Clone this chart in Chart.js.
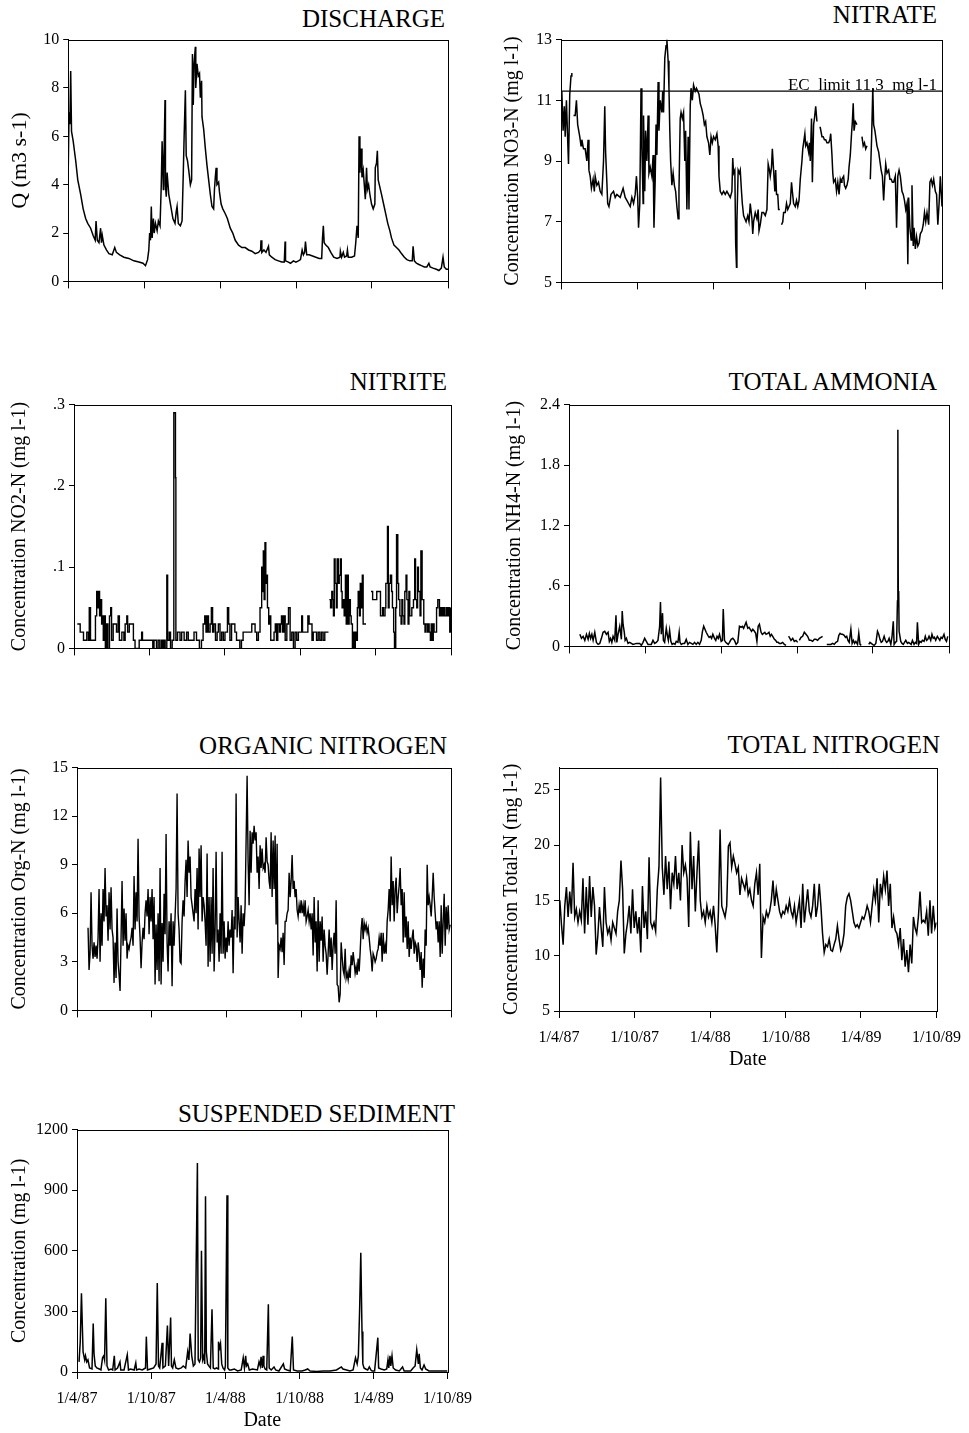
<!DOCTYPE html>
<html><head><meta charset="utf-8">
<script src="https://cdn.jsdelivr.net/npm/chart.js@4.4.1/dist/chart.umd.min.js"></script>
<style>
html,body{margin:0;padding:0;background:#fff;}
body{width:969px;height:1433px;position:relative;overflow:hidden;font-family:"Liberation Serif","Times New Roman",serif;}
.ttl{position:absolute;font-size:25px;line-height:25px;white-space:nowrap;color:#000;text-align:right;}
canvas{position:absolute;}
</style></head><body>
<div class="ttl" style="right:524px;top:6px">DISCHARGE</div>
<div class="ttl" style="right:32px;top:2px">NITRATE</div>
<div class="ttl" style="right:522px;top:369px">NITRITE</div>
<div class="ttl" style="right:32px;top:369px">TOTAL AMMONIA</div>
<div class="ttl" style="right:522px;top:733px">ORGANIC NITROGEN</div>
<div class="ttl" style="right:29px;top:732px">TOTAL NITROGEN</div>
<div class="ttl" style="right:514px;top:1101px">SUSPENDED SEDIMENT</div>
<script>
// ---------- DATA (x = days since 1 April 1987) ----------
const dateTickDays = [0,183,366,549,731,914];
const dateTickLabels = ['1/4/87','1/10/87','1/4/88','1/10/88','1/4/89','1/10/89'];

const dischargeDays = [0,2,4,6,8,12,18,23,30,36,42,47,54,60,65,67,70,74,78,80,82,86,92,98,106,112,116,124,134,146,158,170,180,186,191,194,196,198,200,202,205,207,210,214,217,221,224,226,229,230,233,234,236,238,242,247,252,257,260,262,265,270,274,277,279,282,284,287,290,294,297,299,301,303,306,307,310,313,316,318,321,322,326,330,334,338,342,346,350,352,354,356,358,362,364,368,372,378,383,390,396,402,410,418,426,434,442,450,458,463,464,466,471,476,482,484,490,498,506,514,520,522,523,530,535,542,548,554,559,563,566,569,571,574,580,588,596,604,610,612,614,616,620,626,632,639,647,654,655,658,662,665,670,672,674,682,689,692,695,698,700,702,705,707,710,713,715,718,720,723,726,730,734,738,739,742,744,746,750,754,759,764,769,774,778,784,790,796,802,809,815,822,828,830,833,838,844,850,857,863,868,871,878,886,892,898,902,905,910,914];
const dischargeQ = [4.5,7.0,6.5,8.7,6.2,5.8,5.0,4.2,3.6,3.0,2.6,2.4,2.2,1.9,1.7,2.5,1.7,1.6,2.2,1.6,1.9,1.5,1.3,1.15,1.1,1.4,1.2,1.1,1.0,0.95,0.85,0.8,0.75,0.65,0.9,1.3,2.0,1.7,3.1,1.8,2.6,2.0,2.4,2.1,2.5,2.3,4.0,5.8,3.8,4.6,7.5,4.0,3.5,4.5,3.6,3.1,2.6,2.4,2.9,3.1,2.4,2.3,2.5,4.5,6.0,7.9,5.2,5.0,4.6,4.0,4.2,9.4,7.3,9.0,9.7,8.0,9.0,8.5,8.6,7.6,8.3,6.8,6.3,5.5,4.8,4.2,3.6,3.1,3.0,3.8,4.3,4.7,4.0,4.1,3.7,3.2,3.0,2.8,2.6,2.2,2.0,1.7,1.5,1.4,1.4,1.3,1.25,1.15,1.2,1.3,1.7,1.2,1.3,1.2,1.45,1.1,1.0,0.9,0.85,0.8,0.8,1.65,0.85,0.8,0.75,0.85,0.8,0.85,0.9,1.3,1.1,1.2,1.65,1.1,1.1,1.05,1.0,0.95,0.95,1.8,2.3,1.6,1.5,1.4,1.2,1.0,0.95,1.0,1.25,1.0,1.2,1.0,1.05,1.3,1.0,1.0,1.05,1.6,2.3,1.8,6.0,4.5,5.5,4.3,4.6,3.9,3.4,4.7,3.8,4.0,3.6,3.2,3.0,3.2,4.7,4.9,5.4,4.2,3.9,3.6,3.2,2.8,2.4,2.1,1.8,1.5,1.4,1.3,1.15,1.0,0.9,0.85,0.85,1.45,0.85,0.75,0.7,0.65,0.6,0.6,0.75,0.6,0.55,0.5,0.45,0.55,1.0,0.6,0.5,0.5];

// [day, NO3-N]; null = gap in record
const nitratePts = [[2,11.3],[5,10.0],[8,10.8],[10,9.8],[13,11.0],[16,9.7],[18,8.9],[21,11.2],[24,11.8],[26,11.9],[28,null],[30,10.5],[34,10.5],[37,11.0],[40,10.2],[45,9.8],[48,9.5],[50,9.7],[54,9.4],[58,9.4],[62,9.0],[65,9.7],[67,8.7],[70,8.5],[73,8.1],[77,8.4],[80,8.0],[82,8.5],[86,8.2],[90,8.3],[94,8.0],[98,7.9],[102,9.0],[105,10.8],[107,9.3],[110,8.3],[112,7.6],[115,7.5],[120,7.9],[126,8.0],[130,7.8],[134,7.9],[142,7.8],[149,8.1],[154,7.8],[158,7.7],[162,7.6],[166,7.5],[170,7.8],[174,7.6],[178,7.9],[181,8.5],[184,7.8],[186,6.8],[189,7.6],[192,11.4],[194,9.5],[197,7.6],[198,10.5],[201,8.0],[203,10.0],[206,9.0],[209,10.5],[211,8.6],[214,8.8],[218,8.5],[221,9.2],[223,6.8],[226,8.4],[228,10.2],[230,9.2],[233,11.6],[235,10.0],[238,11.0],[242,10.6],[244,11.3],[246,10.6],[249,12.4],[252,12.8],[254,13.0],[257,12.3],[259,11.4],[261,10.0],[263,9.0],[266,8.2],[269,8.6],[272,8.2],[275,8.0],[278,7.5],[281,7.1],[283,8.0],[286,10.4],[288,10.6],[291,10.4],[294,10.6],[297,9.0],[299,10.0],[302,7.4],[305,9.8],[307,7.4],[310,10.8],[312,11.4],[315,11.0],[318,11.5],[322,11.3],[325,11.4],[328,11.3],[331,11.2],[334,10.9],[338,10.7],[341,10.5],[344,10.2],[347,10.3],[350,9.8],[354,9.6],[357,9.2],[360,9.8],[363,9.6],[366,9.8],[370,9.7],[374,9.9],[377,9.5],[379,8.5],[382,8.0],[386,7.9],[390,8.0],[394,7.9],[398,8.0],[402,7.9],[406,7.8],[410,8.0],[412,9.1],[414,8.6],[417,8.7],[419,6.3],[421,5.5],[422,7.0],[425,8.7],[428,8.6],[430,8.7],[433,8.0],[435,7.6],[438,7.2],[441,7.1],[444,7.0],[448,7.2],[451,7.0],[454,7.6],[458,7.1],[460,6.6],[462,7.0],[466,7.3],[470,7.1],[473,7.4],[475,6.7],[478,6.9],[482,7.3],[486,7.3],[490,7.2],[494,7.4],[497,8.9],[500,8.7],[502,8.5],[505,8.8],[507,9.4],[510,8.7],[513,8.0],[515,8.7],[517,7.9],[520,7.9],[522,7.4],[525,7.4],[526,null],[529,6.9],[532,7.0],[534,7.3],[538,7.3],[541,7.6],[544,7.4],[547,7.5],[550,7.6],[553,8.3],[555,8.0],[558,7.6],[562,7.5],[565,7.7],[568,7.5],[571,7.7],[574,8.4],[578,9.0],[580,9.4],[582,9.6],[585,9.9],[587,9.5],[590,9.6],[594,9.3],[596,9.6],[598,9.0],[601,10.4],[603,8.3],[606,10.2],[608,10.4],[611,10.8],[614,10.3],[617,null],[620,10.1],[622,10.1],[626,9.8],[629,9.8],[632,9.7],[635,9.7],[638,9.6],[642,9.6],[645,9.7],[647,9.9],[650,9.2],[652,8.6],[654,8.3],[658,8.4],[661,8.0],[664,8.3],[667,7.9],[670,8.4],[672,8.3],[674,8.4],[678,8.5],[680,8.2],[683,8.1],[686,8.2],[689,8.4],[691,8.8],[694,9.2],[697,9.9],[699,10.3],[701,10.9],[703,10.0],[706,10.3],[710,10.2],[715,null],[722,9.8],[725,9.5],[728,9.6],[731,9.4],[734,9.5],[738,null],[742,8.4],[745,9.7],[748,11.4],[750,10.2],[753,10.0],[755,9.8],[758,9.5],[762,9.3],[765,9.0],[768,8.7],[771,8.5],[774,7.7],[777,8.5],[779,8.9],[782,8.6],[786,8.7],[789,8.4],[792,8.4],[795,8.3],[798,8.3],[802,8.5],[805,6.8],[808,8.5],[811,8.7],[814,8.5],[818,8.0],[821,7.9],[824,7.7],[827,7.4],[830,7.6],[832,5.6],[834,7.8],[837,6.8],[840,6.4],[842,8.2],[845,6.2],[847,6.8],[850,6.1],[853,6.5],[856,6.2],[859,6.3],[862,6.6],[866,6.7],[869,6.9],[872,7.3],[875,7.0],[878,7.3],[882,6.9],[885,8.3],[888,8.4],[891,8.2],[894,8.4],[898,8.0],[901,7.9],[904,6.9],[907,7.6],[910,8.5],[914,7.5]];
const ecLimit = 11.3;
const ecLabel = 'EC  limit 11,3  mg l-1';

// [day, NO2-N]
const nitritePts = [[8,.03],[15,.02],[23,.01],[31,.02],[35,.01],[37,.05],[40,.01],[47,.01],[52,.04],[55,.07],[57,.05],[60,.07],[62,.04],[65,.06],[67,.03],[69,.04],[71,.01],[74,.04],[76,0],[79,.03],[82,0],[86,.04],[89,.05],[91,.01],[95,.03],[99,.03],[103,.02],[107,.04],[110,.01],[116,.02],[121,.01],[124,.03],[128,.04],[130,.02],[134,.03],[140,.03],[144,.01],[148,0],[152,0],[158,.01],[164,.02],[166,.01],[172,.01],[180,.01],[188,.01],[191,0],[194,.01],[200,0],[204,.01],[208,0],[212,.01],[215,0],[218,.01],[221,0],[225,.09],[227,.01],[231,.02],[234,0],[238,.01],[242,.29],[246,.21],[247,.01],[251,.02],[257,.01],[261,.02],[267,.01],[273,.02],[277,.01],[285,.01],[291,.02],[297,.01],[304,0],[309,.01],[313,.03],[317,.04],[320,.02],[323,.04],[326,.02],[330,.03],[333,.05],[336,.02],[339,.03],[343,.01],[347,.02],[350,.03],[354,.01],[358,.02],[362,.01],[366,.02],[372,.05],[375,.03],[378,.01],[382,.03],[386,.03],[390,.02],[394,.01],[398,.01],[402,0],[406,.01],[410,.02],[419,.02],[427,.02],[431,.03],[435,.03],[439,.02],[443,.01],[447,.02],[451,.05],[455,.1],[457,.07],[459,.12],[461,.06],[463,.13],[465,.08],[468,.09],[469,.05],[472,.03],[474,.04],[477,.01],[482,.01],[485,.02],[488,.03],[491,.01],[494,.03],[498,.02],[501,.03],[503,.04],[506,.02],[509,.04],[512,.01],[516,.03],[520,.05],[524,.01],[528,.02],[532,0],[536,.02],[540,.01],[544,.02],[548,.02],[552,.04],[554,.02],[558,.02],[564,.02],[567,.04],[570,.03],[574,.03],[577,.01],[580,.02],[584,.02],[588,.01],[592,.02],[596,.01],[600,.02],[604,.01],[608,.02],[612,.02],[617,.02],[618,null],[619,.06],[622,.05],[625,.07],[627,.06],[629,.04],[631,.11],[633,.08],[636,.05],[638,.11],[641,.08],[643,.09],[646,.11],[648,.07],[650,.05],[653,.06],[655,.04],[658,.09],[660,.03],[663,.09],[665,.03],[667,.06],[670,.04],[672,.03],[675,0],[677,.02],[680,0],[682,.02],[684,.01],[687,.05],[689,.07],[692,.04],[694,.08],[696,.05],[699,.09],[701,.03],[704,.03],[708,.03],[709,null],[720,.07],[724,.06],[730,.06],[734,.07],[743,.04],[748,.05],[750,.04],[754,.05],[756,.08],[760,.15],[762,.05],[764,.08],[767,.09],[770,.07],[772,.05],[775,.02],[777,0],[780,.05],[782,.14],[785,.08],[787,.06],[790,.04],[793,.03],[795,.06],[797,.04],[800,.03],[802,.07],[805,.09],[807,.06],[810,.03],[812,.07],[814,.04],[817,.04],[819,.05],[823,.06],[826,.11],[828,.06],[831,.05],[833,.1],[835,.07],[839,.04],[841,.12],[844,.06],[846,.06],[848,.03],[851,.02],[853,.03],[857,.02],[859,.03],[861,.02],[864,.01],[866,.03],[869,.01],[871,.03],[873,.02],[876,.02],[879,.05],[882,.06],[886,.04],[889,.05],[892,.04],[895,.05],[898,.04],[902,.05],[905,.04],[908,.05],[911,.02],[913,.05]];

// [day, NH4-N]
const ammoniaPts = [[26,.12],[30,.08],[34,.1],[38,.06],[42,.12],[46,.07],[49,.13],[52,.08],[55,.12],[58,.06],[62,.14],[66,.04],[70,.02],[74,.03],[78,.08],[82,.14],[86,.15],[90,.12],[94,.14],[97,.05],[100,.08],[103,.04],[106,.1],[110,.06],[113,.31],[115,.04],[118,.12],[122,.2],[126,.07],[128,.35],[130,.22],[133,.14],[135,.06],[138,.08],[142,.03],[146,.04],[150,.03],[154,.02],[162,.03],[170,.03],[174,.01],[178,.04],[182,.08],[186,.05],[190,.02],[194,.02],[198,.02],[202,.06],[206,.03],[210,.04],[214,.06],[218,.2],[220,.44],[222,.12],[225,.33],[227,.06],[230,.04],[234,.18],[237,.1],[239,.06],[242,.16],[245,.05],[248,.02],[252,.03],[255,.02],[258,.05],[262,.04],[265,.14],[267,.04],[270,.02],[274,.03],[278,.03],[282,.07],[286,.02],[290,.04],[294,.03],[298,.02],[302,.04],[306,.02],[310,.04],[314,.02],[318,.06],[321,.15],[324,.2],[327,.17],[330,.14],[334,.11],[337,.09],[340,.1],[343,.08],[346,.12],[350,.08],[353,.06],[356,.1],[359,.08],[362,.12],[366,.05],[369,.06],[371,.37],[374,.06],[377,.04],[380,.03],[383,.02],[386,.04],[390,.07],[394,.08],[398,.06],[402,.02],[406,.04],[410,.2],[414,.19],[417,.2],[420,.18],[423,.21],[426,.24],[430,.18],[433,.19],[436,.17],[439,.15],[442,.17],[446,.15],[449,.13],[452,.05],[455,.2],[458,.22],[462,.14],[465,.12],[468,.13],[471,.14],[474,.12],[478,.13],[481,.14],[484,.1],[487,.12],[490,.1],[494,.07],[497,.06],[500,.04],[503,.04],[506,.03],[510,.03],[514,.04],[518,.02],[522,.01],[525,null],[528,.1],[530,.09],[534,.06],[538,.08],[542,.05],[546,.06],[550,.04],[552,null],[554,.06],[558,.09],[562,.1],[566,.14],[570,.12],[574,.1],[578,.06],[582,.06],[586,.05],[590,.07],[594,.07],[598,.06],[602,.08],[606,.09],[610,.1],[615,null],[620,.02],[625,.02],[630,.02],[634,.03],[638,.02],[642,.04],[646,.05],[649,.11],[652,.13],[655,.12],[658,.12],[662,.11],[665,.09],[668,.1],[671,.06],[674,.04],[678,.17],[681,.03],[684,.06],[687,.03],[690,.05],[694,.02],[697,.13],[700,.02],[703,.01],[710,null],[721,.02],[724,.04],[727,.03],[730,.02],[734,.01],[738,.03],[742,.15],[745,.12],[748,.07],[751,.04],[754,.05],[758,.1],[761,.06],[764,.04],[767,.05],[770,.08],[774,.02],[777,.1],[780,.25],[782,.02],[785,.04],[788,.05],[790,.45],[791,2.15],[792,.5],[793,.55],[794,.15],[798,.05],[801,.03],[804,.02],[807,.04],[810,.06],[814,.03],[817,.04],[820,.03],[823,.02],[826,.06],[830,.02],[833,.04],[836,.03],[838,.24],[841,.02],[844,.05],[847,.04],[850,.06],[854,.05],[857,.1],[860,.06],[863,.07],[866,.1],[870,.06],[873,.12],[876,.08],[879,.09],[882,.06],[886,.1],[889,.08],[892,.06],[895,.09],[898,.08],[902,.12],[905,.07],[908,.05],[911,.1]];

// Organic N: one reading per ~2.4 days from day 27 to day 912
const orgNStartDay = 27, orgNEndDay = 912;
const orgN = [5.1,2.5,3.5,7.3,4.0,3.2,4.2,3.3,4.0,3.2,4.5,7.5,3.0,6.0,4.0,7.5,5.5,8.8,5.8,6.5,4.3,7.3,5.0,7.6,5.0,4.5,1.7,4.2,2.0,6.3,3.0,2.2,1.2,4.5,8.0,4.0,6.3,4.3,6.0,3.2,4.0,3.8,4.2,4.5,5.1,4.0,8.3,5.0,7.3,5.5,10.6,5.8,4.5,2.6,4.2,5.1,4.4,6.0,6.8,5.8,7.5,4.7,7.0,5.5,7.5,4.4,7.0,1.6,5.3,2.5,6.0,1.8,8.8,1.6,5.4,3.0,7.2,4.7,10.9,4.2,2.4,5.5,4.0,6.0,1.5,5.5,4.0,5.8,7.5,13.4,6.0,5.0,3.0,2.9,5.5,6.8,5.8,8.0,9.3,7.0,10.5,8.5,9.5,7.0,6.5,6.0,5.5,7.5,6.0,8.8,5.0,10.0,7.0,10.2,5.5,7.0,6.5,5.5,4.0,9.7,2.7,7.0,3.0,7.0,3.5,8.8,2.4,5.0,9.8,4.2,5.0,3.0,6.0,3.5,9.8,3.5,5.5,3.2,4.5,3.6,5.5,4.0,5.0,4.5,6.2,2.3,5.8,5.0,13.4,4.5,7.0,5.5,4.2,6.5,3.5,6.0,5.2,6.5,10.5,14.5,9.2,6.5,11.1,8.5,11.0,10.3,11.4,10.5,11.0,8.5,9.5,7.5,10.2,8.8,10.0,8.8,9.0,8.5,10.7,9.2,9.0,8.0,7.5,11.0,7.0,10.5,7.5,10.8,5.3,10.3,2.0,4.0,3.8,4.5,3.6,4.8,2.8,5.5,5.5,6.0,6.2,8.5,7.0,8.0,9.6,7.5,8.0,7.0,7.5,6.2,5.8,6.5,6.0,6.8,6.0,6.5,5.8,6.8,5.5,5.8,6.2,5.5,6.0,5.0,6.0,3.4,7.0,4.2,5.5,2.4,6.8,3.0,5.5,4.3,5.8,3.0,5.0,4.0,3.5,2.2,3.5,5.0,3.3,4.5,2.5,4.0,4.8,3.5,6.8,1.6,1.5,0.5,1.0,4.2,3.3,2.5,2.2,3.8,2.0,2.3,1.9,2.5,2.0,3.4,2.8,3.6,3.0,2.3,2.7,2.2,3.2,2.4,3.6,5.0,5.7,4.4,5.4,5.0,5.3,4.8,5.1,4.5,3.8,3.3,2.4,3.5,3.3,3.0,3.2,3.6,3.8,4.5,4.0,4.8,3.0,4.8,3.5,4.0,3.5,5.5,6.2,7.5,5.5,9.5,6.5,8.0,5.5,7.5,8.2,6.0,7.0,7.7,8.8,6.5,7.5,4.2,7.3,4.5,5.8,3.8,5.5,3.3,4.5,3.8,4.5,5.0,3.5,4.2,4.0,3.0,4.2,3.6,2.5,3.6,1.4,3.2,2.0,5.0,4.0,9.0,6.5,7.0,6.5,5.8,7.0,8.5,7.0,6.0,5.0,5.5,4.2,5.5,3.3,6.5,3.5,5.5,7.2,4.0,6.4,5.0,6.5,5.0,5.3];

// Total N: one reading per ~4 days from day 2 to day 914
const totalNStartDay = 2, totalNEndDay = 914;
const totalN = [15.0,12.8,11.0,14.5,16.2,13.5,15.8,13.8,18.4,13.5,14.2,13.0,14.0,13.2,17.0,12.0,16.2,12.8,17.2,13.5,16.2,14.5,10.1,11.8,14.4,12.5,10.8,16.2,13.0,12.0,12.5,11.4,13.0,12.5,12.0,14.0,15.0,18.6,16.0,10.2,12.0,13.0,14.5,12.0,16.0,12.5,14.0,12.0,13.5,10.3,16.3,12.5,14.0,11.5,18.9,13.0,12.5,13.0,12.2,16.0,18.0,26.1,18.0,15.5,19.0,16.0,18.5,14.2,17.5,16.5,19.0,16.0,17.5,15.0,20.0,17.5,18.2,17.0,12.6,21.2,16.0,19.0,14.0,17.5,20.4,15.0,13.5,14.0,13.0,14.5,13.5,14.0,13.0,14.5,12.8,10.3,14.0,21.4,14.5,14.0,13.5,14.5,19.9,20.2,18.0,19.0,18.3,17.5,18.0,15.5,17.0,16.5,16.0,17.0,15.5,16.0,15.0,14.5,16.5,17.5,15.5,18.3,9.8,13.5,13.0,14.0,13.5,14.0,15.0,16.8,14.5,16.0,15.0,14.0,13.5,14.0,13.8,14.5,14.0,15.0,14.0,13.5,14.5,13.0,14.0,15.0,12.5,16.5,13.0,14.5,16.0,14.0,13.5,14.5,16.5,13.5,14.5,16.5,14.5,12.0,10.3,11.0,10.8,11.5,10.5,10.4,11.0,11.5,12.7,11.5,10.5,11.0,12.0,14.5,15.3,15.6,15.0,14.0,13.0,12.6,12.8,12.5,13.0,13.5,13.3,13.8,14.5,14.0,13.0,14.5,16.0,15.0,17.0,13.0,16.5,15.5,17.2,16.0,17.7,14.5,16.5,12.5,13.5,12.3,12.0,11.0,12.5,9.6,11.5,9.0,10.5,8.5,11.0,9.3,13.5,12.5,12.0,13.5,15.8,13.0,13.2,13.0,14.0,11.8,15.0,12.0,14.5,12.5,13.0];

// [day, suspended sediment mg/l]
const sedimentPts = [[5,50],[8,150],[11,390],[13,240],[15,100],[19,60],[21,80],[24,50],[27,60],[31,20],[37,15],[40,240],[42,90],[45,30],[49,20],[55,15],[59,10],[63,70],[66,80],[68,60],[71,365],[74,30],[78,10],[84,15],[88,10],[92,80],[94,10],[100,20],[106,50],[108,10],[116,10],[124,85],[127,10],[132,15],[141,10],[145,45],[147,10],[153,15],[161,10],[169,20],[171,175],[174,10],[181,15],[189,20],[195,40],[198,440],[201,30],[204,20],[210,145],[212,20],[218,30],[223,230],[226,30],[231,270],[233,30],[236,20],[240,60],[244,20],[250,15],[257,20],[262,30],[268,20],[273,100],[276,60],[279,190],[283,80],[287,30],[291,40],[297,1035],[299,60],[302,50],[305,70],[307,600],[310,60],[313,80],[315,40],[317,870],[319,100],[322,40],[325,30],[329,20],[333,310],[336,20],[340,15],[344,20],[348,15],[349,150],[352,120],[354,140],[357,40],[360,20],[364,10],[366,30],[370,875],[372,20],[376,10],[380,10],[388,15],[396,5],[405,10],[410,70],[413,20],[416,80],[418,30],[421,40],[425,10],[433,15],[445,10],[449,50],[452,30],[454,75],[457,20],[459,80],[461,30],[464,15],[468,10],[472,335],[474,20],[479,10],[486,25],[490,10],[498,5],[509,40],[512,15],[518,10],[526,5],[531,175],[534,10],[543,5],[555,5],[563,10],[569,15],[575,5],[591,3],[608,5],[624,5],[640,10],[652,25],[656,15],[665,10],[673,5],[681,10],[687,70],[691,40],[694,80],[697,300],[700,590],[703,200],[705,40],[708,20],[712,15],[717,10],[721,25],[725,10],[728,5],[734,5],[742,170],[744,20],[750,15],[758,10],[764,15],[767,60],[769,20],[772,80],[774,30],[777,80],[780,20],[786,10],[795,5],[803,25],[807,5],[815,5],[823,5],[829,20],[834,30],[838,110],[842,40],[844,90],[847,20],[851,10],[856,35],[860,15],[868,5],[880,5],[892,5],[904,5],[914,5]];

// ---------- RENDERING ----------
Chart.defaults.font.family = "'Liberation Serif','Times New Roman',serif";
Chart.defaults.color = '#000';

function pairs(a){ return a.map(p => ({x:p[0], y:p[1]})); }
function xy(xs, ys){ const n = Math.min(xs.length, ys.length); const o=[]; for(let i=0;i<n;i++) o.push({x:xs[i], y:ys[i]}); return o; }
function spread(start, end, ys){ const st=(end-start)/(ys.length-1); return ys.map((v,i)=>({x:start+i*st, y:v})); }

const framePlugin = {
  id:'frame',
  afterDraw(chart){
    const {ctx, chartArea:a} = chart;
    ctx.save(); ctx.strokeStyle='#000'; ctx.lineWidth=1;
    const l=Math.round(a.left), t=Math.round(a.top), r=Math.round(a.right), b=Math.round(a.bottom);
    ctx.strokeRect(l+0.5, t+0.5, r-l, b-t);
    ctx.restore();
  }
};
const ecPlugin = {
  id:'ec',
  afterDatasetsDraw(chart){
    const {ctx, chartArea:a, scales:{y}} = chart;
    const py = y.getPixelForValue(ecLimit);
    ctx.save(); ctx.font = "17px 'Liberation Serif'"; ctx.fillStyle='#000';
    ctx.textAlign='right'; ctx.textBaseline='alphabetic';
    ctx.fillText(ecLabel, a.right-5, py-1);
    ctx.restore();
  }
};

function panel(cfg){
  const padTop=12, padRight=30;
  const xh = cfg.dateLabels ? 61 : 12;
  const ySize = cfg.yTitleSize || 20;
  const cl = cfg.yTitleX - ySize*0.6;
  const w = Math.round(cfg.R + padRight - cl), h = Math.round(padTop + cfg.B - cfg.T + xh);
  const c = document.createElement('canvas');
  c.width = w; c.height = h;
  c.style.left = cl+'px'; c.style.top = (cfg.T-padTop)+'px';
  c.style.width = w+'px'; c.style.height = h+'px';
  document.body.appendChild(c);
  const yw = cfg.L - cl;
  new Chart(c, {
    type:'line',
    data:{datasets: cfg.datasets.map(d => Object.assign({borderColor:'#000', borderWidth:1.5, pointRadius:0, fill:false, tension:0, spanGaps:false}, d))},
    options:{
      responsive:false, animation:false, events:[],
      layout:{padding:{left:0, top:padTop, right:padRight, bottom:0}},
      plugins:{legend:{display:false}, tooltip:{enabled:false}, title:{display:false}},
      scales:{
        x:{type:'linear', min:0, max:914,
           afterBuildTicks: s => { s.ticks = dateTickDays.map(v => ({value:v})); },
           afterFit: s => { s.height = xh; },
           ticks:{autoSkip:false, maxRotation:0, minRotation:0, padding:10, font:{size:16}, color:'#000',
                  callback:(v,i) => cfg.dateLabels ? dateTickLabels[i] : ''},
           grid:{drawOnChartArea:false, drawTicks:true, tickLength:7, color:'#000', lineWidth:1},
           border:{display:true, color:'#000', width:1},
           title:{display:!!cfg.dateLabels, text:'Date', font:{size:20}, color:'#000', padding:0}},
        y:{type:'linear', min:cfg.yMin, max:cfg.yMax,
           afterBuildTicks: s => { s.ticks = cfg.yTicks.map(v => ({value:v})); },
           afterFit: s => { s.width = yw; },
           ticks:{autoSkip:false, padding:4, font:{size:16}, color:'#000', callback:(v,i) => cfg.yLabels[i]},
           grid:{drawOnChartArea:false, drawTicks:true, tickLength:5, color:'#000', lineWidth:1},
           border:{display:true, color:'#000', width:1},
           title:{display:true, text:cfg.yTitle, font:{size:ySize}, color:'#000', padding:0}}
      }
    },
    plugins:[framePlugin].concat(cfg.plugins || [])
  });
}

panel({L:68, T:38, R:448, B:283, yTitleX:20, yTitleSize:22, yMin:0, yMax:10,
  yTicks:[0,2,4,6,8,10], yLabels:['0','2','4','6','8','10'], yTitle:'Q (m3 s-1)',
  datasets:[{data:xy(dischargeDays, dischargeQ)}]});

panel({L:561, T:38, R:942, B:284, yTitleX:513, yMin:5, yMax:13,
  yTicks:[5,7,9,11,13], yLabels:['5','7','9','11','13'], yTitle:'Concentration NO3-N (mg l-1)',
  datasets:[{data:pairs(nitratePts)}, {data:[{x:0,y:ecLimit},{x:914,y:ecLimit}], borderWidth:1.3}],
  plugins:[ecPlugin]});

panel({L:74, T:403, R:451, B:650, yTitleX:20, yMin:0, yMax:0.3,
  yTicks:[0,0.1,0.2,0.3], yLabels:['0','.1','.2','.3'], yTitle:'Concentration NO2-N (mg l-1)',
  datasets:[{data:pairs(nitritePts), stepped:true, borderWidth:1.4}]});

panel({L:569, T:403, R:949, B:648, yTitleX:515, yMin:0, yMax:2.4,
  yTicks:[0,0.6,1.2,1.8,2.4], yLabels:['0','.6','1.2','1.8','2.4'], yTitle:'Concentration NH4-N (mg l-1)',
  datasets:[{data:pairs(ammoniaPts)}]});

panel({L:77, T:766, R:451, B:1012, yTitleX:20, yMin:0, yMax:15,
  yTicks:[0,3,6,9,12,15], yLabels:['0','3','6','9','12','15'], yTitle:'Concentration Org-N (mg l-1)',
  datasets:[{data:spread(orgNStartDay, orgNEndDay, orgN), borderWidth:1.4}]});

panel({L:559, T:766, R:941, B:1011, yTitleX:512, yMin:5, yMax:27, dateLabels:true,
  yTicks:[5,10,15,20,25], yLabels:['5','10','15','20','25'], yTitle:'Concentration Total-N (mg l-1)',
  datasets:[{data:spread(totalNStartDay, totalNEndDay, totalN)}]});

panel({L:77, T:1128, R:452, B:1372, yTitleX:20, yMin:0, yMax:1200, dateLabels:true,
  yTicks:[0,300,600,900,1200], yLabels:['0','300','600','900','1200'], yTitle:'Concentration (mg l-1)',
  datasets:[{data:pairs(sedimentPts)}]});
</script>
</body></html>
